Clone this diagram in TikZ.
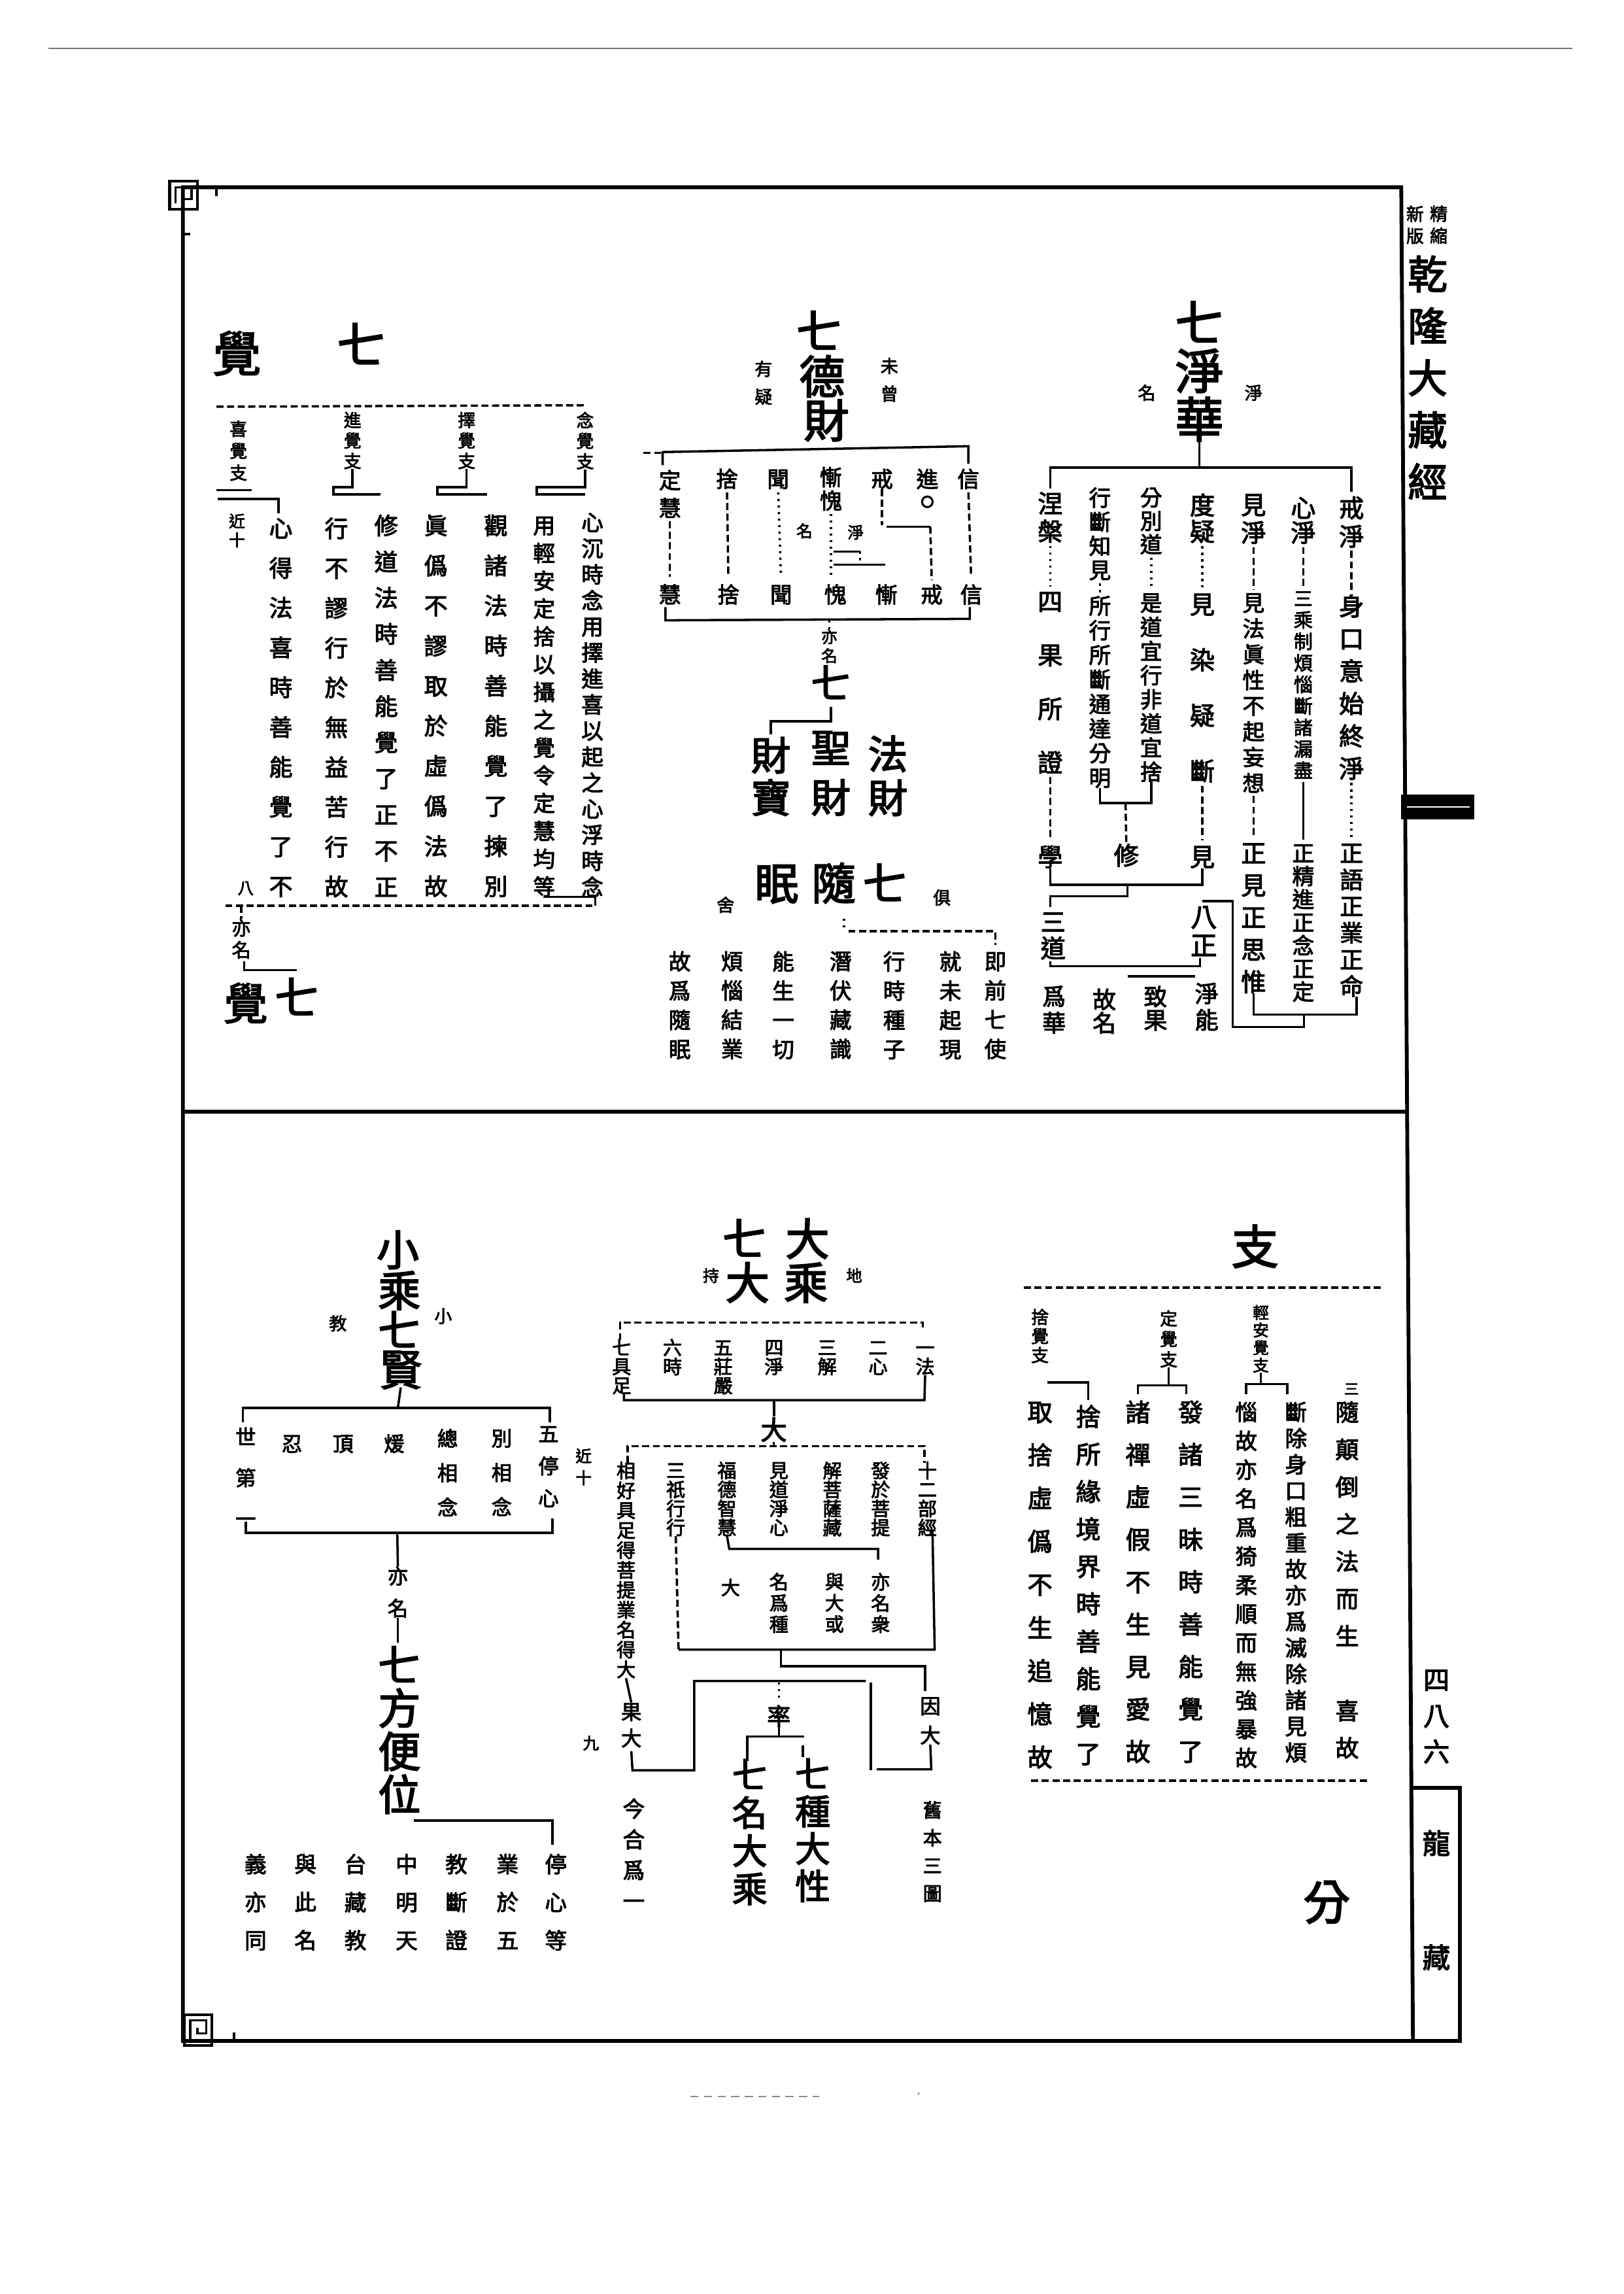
\documentclass[tikz,border=0pt]{standalone}
\usepackage{fontspec}
\setmainfont{Noto Sans CJK TC}[FakeBold=3]
\newlength\ux
\setlength\ux{0.53834pt}
\makeatletter
\def\vc@end{\vc@end}
\def\vc@loop#1{\ifx\vc@end#1\else\hbox to 0pt{\hss\vrule height .83em depth .07em width 0pt\relax#1\hss}\expandafter\vc@loop\fi}
% vertical column of characters: size, pitch, characters
\newcommand\vchars[3]{\vbox{\fontsize{#1\ux}{#2\ux}\selectfont\baselineskip=#2\ux\relax\lineskip=0pt\relax\lineskiplimit=-1000pt\relax\vc@loop#3\vc@end}}
\makeatother
% \vcolumn{name}{x}{y of first character centre}{size}{pitch}{characters}
\newcommand\vcolumn[6]{\node[vcol,yshift=#4*0.24225pt] (#1) at (#2,#3) {\vchars{#4}{#5}{#6}};}
% \onechar{name}{x}{y}{size}{character}
\newcommand\onechar[5]{\node[chr,font={\fontsize{#4\ux}{#4\ux}\selectfont}] (#1) at (#2,#3) {#5};}
\tikzset{
  vcol/.style={inner sep=0pt,outer sep=0pt,anchor=north},
  chr/.style={inner sep=0pt,outer sep=0pt,text height=0.83em,text depth=0.07em},
  ln/.style={line width=0.85pt},
  dl/.style={line width=0.85pt,dash pattern=on 2.6pt off 1.3pt},
  dt/.style={line width=0.85pt,dash pattern=on 0.8pt off 1.6pt},
  frm/.style={line width=1.4pt},
  gap/.style={shorten <=1.2pt,shorten >=1.2pt},
}
\begin{document}
\begin{tikzpicture}[x=0.53834pt,y=-0.53834pt]
\useasboundingbox (0,0) rectangle (1110,1568);
\fill[white] (0,0) rectangle (1110,1568);

% ---------- page frame ----------
\draw[line width=0.5pt,black!55] (33,33) -- (1075,33);
\draw[frm] (125,128) -- (958,128) -- (966,1395) -- (125,1395) -- cycle;
\draw[frm] (125,760) -- (961,760);
\draw[frm] (966,1222) -- (998,1222) -- (998,1395) -- (966,1395);
% corner frets
\draw[line width=1pt] (116,124) rectangle (135,143);
\draw[line width=0.8pt] (120,139) -- (120,128) -- (131,128) -- (131,136) -- (125,136) -- (125,132);
\draw[line width=0.8pt] (135,128) -- (148,128) -- (148,134);
\draw[line width=0.8pt] (125,143) -- (125,160) -- (130,160);
\draw[line width=1pt] (126,1377) rectangle (145,1398);
\draw[line width=0.8pt] (130,1394) -- (130,1381) -- (141,1381) -- (141,1390) -- (135,1390) -- (135,1386);
\draw[line width=0.8pt] (145,1395) -- (160,1395) -- (160,1389);

% ---------- margin ----------
\vcolumn{mA}{983.6}{146}{12}{15}{精縮}
\vcolumn{mB}{967.4}{146}{12}{15}{新版}
\vcolumn{mC}{976}{187}{27}{35.5}{乾隆大藏經}
\fill (958,543) rectangle (1008,560);
\draw[white,line width=0.6pt] (962,551.5) -- (1005,551.5);
\vcolumn{mD}{982}{1148}{18}{24.6}{四八六}
\onechar{mE}{982}{1260}{19}{龍}
\onechar{mF}{982}{1338}{19}{藏}

% ---------- seven pure flowers ----------
\onechar{aQi}{820}{226}{33}{七}
\onechar{aJing}{820}{259}{33}{淨}
\onechar{aHua}{820}{292}{33}{華}
\onechar{aMing}{784}{266}{12}{名}
\onechar{aJingS}{857}{266}{12}{淨}
\draw[ln] (aHua.south) -- (820,319.6);
\draw[ln] (718,334) -- (718,319.6) -- (924,319.6) -- (924,336);

\vcolumn{a1a}{924}{347}{17}{19.5}{戒淨}
\vcolumn{a1b}{924}{414}{17}{22.2}{身口意始終淨}
\vcolumn{a1c}{924}{583}{16}{18.2}{正語正業正命}
\draw[dl,gap] (a1a.south) -- (a1b.north);
\draw[dt,gap] (a1b.south) -- (a1c.north);

\vcolumn{a2a}{891}{347}{17}{17}{心淨}
\vcolumn{a2b}{891}{409}{13}{14.7}{三乘制煩惱斷諸漏盡}
\vcolumn{a2c}{891}{583}{15}{15.8}{正精進正念正定}
\draw[dl,gap] (a2a.south) -- (a2b.north);
\draw[ln,gap] (a2b.south) -- (a2c.north);

\vcolumn{a3a}{857}{345}{17}{19}{見淨}
\vcolumn{a3b}{857}{412}{15}{17.6}{見法眞性不起妄想}
\vcolumn{a3c}{857}{583}{17}{22}{正見正思惟}
\draw[dl,gap] (a3a.south) -- (a3b.north);
\draw[dl,gap] (a3b.south) -- (a3c.north);

\vcolumn{a4a}{822}{345}{17}{18}{度疑}
\vcolumn{a4b}{822}{413}{17}{38}{見染疑斷}
\onechar{a4c}{822}{585}{17}{見}
\draw[dt,gap] (a4a.south) -- (a4b.north);
\draw[dl,gap] (a4b.south) -- (a4c.north);

\vcolumn{a5a}{787}{340}{15}{16}{分別道}
\vcolumn{a5b}{787}{412}{15}{16.5}{是道宜行非道宜捨}
\draw[dt,gap] (a5a.south) -- (a5b.north);

\vcolumn{a6a}{752}{340}{15}{16.5}{行斷知見}
\vcolumn{a6b}{752}{414}{15}{16.8}{所行所斷通達分明}
\draw[dt,gap] (a6a.south) -- (a6b.north);

\vcolumn{a7a}{718}{344}{17}{19}{涅槃}
\vcolumn{a7b}{718}{411}{17}{36.7}{四果所證}
\onechar{a7c}{718}{585}{17}{學}
\draw[dt,gap] (a7a.south) -- (a7b.north);
\draw[dl,gap] (a7b.south) -- (a7c.north);

% cultivation bracket
\draw[ln] (a6b.south) -- (752,549) -- (787,549) -- (a5b.south);
\onechar{a5c}{770}{584}{17}{修}
\draw[dl] (769.5,549) -- (a5c.north);
% three paths
\draw[ln] (a7c.south) -- (718,604.7) -- (822,604.7) -- (a4c.south);
\draw[ln] (770.9,604.7) -- (770.9,612.5) -- (718,612.5) -- (718,620);
\vcolumn{a8}{720}{630}{17}{18}{三道}
\draw[ln] (718,657) -- (718,660.4) -- (820.4,660.4) -- (820.4,655);
\vcolumn{a9}{823}{626.5}{18}{19.5}{八正}
% eight right bracket
\draw[ln] (822,616) -- (842.7,616) -- (842.7,702) -- (891.5,702) -- (891.5,693.5);
\draw[ln] (a3c.south) -- (857,693.5) -- (927.4,693.5) -- (a1c.south -| 927.4,0);
\draw[ln] (770.9,667.4) -- (817.2,667.4);
\vcolumn{a10}{825}{679}{16}{18}{淨能}
\vcolumn{a11}{790}{681}{16}{16}{致果}
\vcolumn{a12}{755}{683}{16}{16}{故名}
\vcolumn{a13}{720.6}{681}{16}{18}{爲華}

% ---------- seven treasures ----------
\onechar{bQi}{560}{231}{31}{七}
\onechar{bDe}{562}{262}{31}{德}
\onechar{bCai}{565}{292}{31}{財}
\vcolumn{bYou}{522}{252}{12}{19}{有疑}
\vcolumn{bWei}{608}{250}{12}{19}{未曾}
\draw[dl] (440,309.5) -- (452,309.5);
\draw[ln] (453,318) -- (453,309) -- (662,305) -- (662,317);
\draw[ln] (455,415) -- (455,424) -- (663,423) -- (663,415);

\onechar{bT1}{662}{326}{15}{信}
\onechar{bT2}{634}{326}{15}{進}
\onechar{bT3}{603}{326}{15}{戒}
\vcolumn{bT4}{568}{326}{15}{16}{慚愧}
\onechar{bT5}{532}{326}{15}{聞}
\onechar{bT6}{497}{326}{15}{捨}
\vcolumn{bT7}{458}{328}{15}{19}{定慧}
\draw[line width=0.75pt] (634,343) circle (3.6);
\onechar{bM1}{550}{360}{11}{名}
\onechar{bM2}{585}{361}{11}{淨}

\onechar{bB1}{664}{405}{15}{信}
\onechar{bB2}{637}{405}{15}{戒}
\onechar{bB3}{606}{405}{15}{慚}
\onechar{bB4}{571}{405}{15}{愧}
\onechar{bB5}{534}{405}{15}{聞}
\onechar{bB6}{498}{405}{15}{捨}
\onechar{bB7}{458}{405}{15}{慧}

\draw[dl,gap] (bT1.south) -- (bB1.north);
\draw[dl,gap] (bT7.south) -- (bB7.north);
\draw[dl] (bT3.south) -- (603,359);
\draw[ln] (606,360) -- (636,360);
\draw[dl] (636,360) -- (bB2.north);
\draw[dt,gap] (bT4.south) -- (568,396);
\draw[ln] (570,377) -- (588,377);
\draw[ln] (570,386) -- (605,386);
\draw[dt] (588,377) -- (588,386);
\draw[dt,gap] (bT5.south) -- (bB5.north);
\draw[dl,gap] (bT6.south) -- (bB6.north);

\vcolumn{bYi}{567}{435}{11}{13}{亦名}
\draw[dt] (567,424) -- (bYi.north);
\onechar{bQi2}{568}{470}{27}{七}
\draw[ln] (568,483) -- (568,493) -- (527,493) -- (527,502);
\vcolumn{bX1}{527}{516}{27}{29}{財寶}
\vcolumn{bX2}{568}{511}{27}{34}{聖財}
\vcolumn{bX3}{607}{515}{27}{30}{法財}

\onechar{bR1}{531}{608}{30}{眠}
\onechar{bR2}{570}{608}{30}{隨}
\onechar{bR3}{605}{608}{30}{七}
\onechar{bS1}{496}{616}{12}{舍}
\onechar{bS2}{644}{611}{12}{俱}
\draw[dt] (577,628) -- (577,636.5);
\draw[dl] (580,636.5) -- (680.5,636.5) -- (680.5,646);
\vcolumn{bC1}{680.5}{657}{15}{20}{即前七使}
\vcolumn{bC2}{649.7}{657}{15}{20}{就未起現}
\vcolumn{bC3}{611.3}{657}{15}{20}{行時種子}
\vcolumn{bC4}{574.7}{657}{15}{20}{潛伏藏識}
\vcolumn{bC5}{535.5}{657}{15}{20}{能生一切}
\vcolumn{bC6}{500.5}{657}{15}{20}{煩惱結業}
\vcolumn{bC7}{464.7}{657}{15}{20}{故爲隨眠}

% ---------- seven awakening factors ----------
\onechar{cJue}{162}{247}{33}{覺}
\onechar{cQi}{247}{241}{33}{七}
\draw[dl] (148,278) -- (400,277);
\vcolumn{cH1}{400}{287}{12}{14}{念覺支}
\vcolumn{cH2}{319}{287}{12}{14}{擇覺支}
\vcolumn{cH3}{241}{287}{12}{14}{進覺支}
\vcolumn{cH4}{163}{293}{12}{15}{喜覺支}
\draw[ln] (cH1.south) -- (400,333) -- (367,333) -- (367,338) -- (400,338);
\draw[ln] (cH2.south) -- (319,333) -- (299,333) -- (299,338) -- (333,338);
\draw[ln] (cH3.south) -- (241,333) -- (228,333) -- (228,338) -- (260,338);
\draw[ln] (148,335) -- (172,335);
\draw[ln] (149,341) -- (190.5,341) -- (190.5,351);
\vcolumn{cJin}{162}{356}{11}{13}{近十}

\vcolumn{cT1}{405}{357}{15}{17.8}{心沉時念用擇進喜以起之心浮時念}
\vcolumn{cT2}{372}{359}{15}{19}{用輕安定捨以攝之覺令定慧均等}
\vcolumn{cT3}{339}{359}{16}{27.4}{觀諸法時善能覺了揀別}
\vcolumn{cT4}{298}{359}{16}{27.4}{眞僞不謬取於虛僞法故}
\vcolumn{cT5}{264}{359}{16}{24.7}{修道法時善能覺了正不正}
\vcolumn{cT6}{230}{361}{16}{27.2}{行不謬行於無益苦行故}
\vcolumn{cT7}{192}{361}{16}{27.2}{心得法喜時善能覺了不}

\draw[ln] (cT2.south) -- (372,613) -- (407,613) -- (407,619);
\draw[dl] (154,619) -- (407,619);
\onechar{cBa}{168}{604}{11}{八}
\vcolumn{cYi}{165}{634}{13}{15}{亦名}
\draw[dl] (165,619) -- (cYi.north);
\draw[ln] (167,657) -- (167,663) -- (203,663);
\onechar{cJue2}{168}{690}{30}{覺}
\onechar{cQi2}{203}{686}{30}{七}

% ---------- awakening factors, continued ----------
\onechar{dZhi}{858}{857}{32}{支}
\draw[dl] (700,880) -- (945,880);
\vcolumn{dH1}{862}{897}{11}{12}{輕安覺支}
\vcolumn{dH2}{799}{901}{12}{14}{定覺支}
\vcolumn{dH3}{711}{900}{12}{13}{捨覺支}
\draw[ln] (dH1.south) -- (862,946);
\draw[ln] (852,953) -- (852,946) -- (880,946) -- (880,953);
\draw[ln] (dH2.south) -- (799,947);
\draw[ln] (778,953) -- (778,947) -- (811,947) -- (811,953);
\draw[ln] (716,945) -- (744,945) -- (744,957);
\onechar{dMark}{924}{946}{10}{三}

\vcolumn{dT1}{921}{965}{16}{25.5}{隨顛倒之法而生　喜故}
\vcolumn{dT2}{886}{965}{15}{17.9}{斷除身口粗重故亦爲滅除諸見煩}
\vcolumn{dT3}{852}{965}{15}{19.7}{惱故亦名爲猗柔順而無強暴故}
\vcolumn{dT4}{814}{965}{17}{29}{發諸三昧時善能覺了}
\vcolumn{dT5}{778}{965}{17}{29}{諸禪虛假不生見愛故}
\vcolumn{dT6}{744}{968}{17}{25.6}{捨所緣境界時善能覺了}
\vcolumn{dT7}{711}{965}{17}{29.5}{取捨虛僞不生追憶故}
\draw[dl] (705,1217) -- (935,1217);
\onechar{dFen}{907}{1305}{32}{分}

% ---------- seven greatnesses ----------
\onechar{eQi}{509}{851}{30}{七}
\onechar{eDa1}{552}{851}{30}{大}
\onechar{eDa2}{511}{881}{30}{大}
\onechar{eSheng}{551}{881}{30}{乘}
\onechar{eChi}{486}{869}{11}{持}
\onechar{eDi}{584}{869}{11}{地}
\draw[dl] (424,916) -- (424,904) -- (631,904) -- (631,909);
\vcolumn{eI1}{632.5}{921}{13}{13}{一法}
\vcolumn{eI2}{600.3}{921}{13}{13}{二心}
\vcolumn{eI3}{565.5}{921}{13}{13}{三解}
\vcolumn{eI4}{529.2}{921}{13}{13}{四淨}
\vcolumn{eI5}{494.4}{921}{13}{13}{五莊嚴}
\vcolumn{eI6}{459.7}{921}{13}{13}{六時}
\vcolumn{eI7}{425}{921}{13}{13}{七具足}
\draw[ln] (eI1.south) -- (632,957) -- (426.6,957) -- (426.6,953);
\draw[ln] (529.2,957) -- (529.2,968);
\onechar{eDa3}{529}{977}{18}{大}
\draw[ln] (eDa3.south) -- (529,988.4);
\draw[dl] (429,1000) -- (429,988.4) -- (632,988.4) -- (632,1000);
\vcolumn{eC1}{634}{1005}{13}{13}{十二部經}
\vcolumn{eC2}{602}{1005}{13}{13}{發於菩提}
\vcolumn{eC3}{569}{1005}{13}{13}{解菩薩藏}
\vcolumn{eC4}{532.5}{1005}{13}{13}{見道淨心}
\vcolumn{eC5}{497}{1005}{13}{13}{福德智慧}
\vcolumn{eC6}{462}{1005}{13}{13}{三祇行行}
\vcolumn{eC7}{428}{1005}{13}{13.6}{相好具足得菩提業名得大}
\draw[dl] (eC6.south) -- (463.9,1127.5);
\draw[ln] (463.9,1127.5) -- (639,1127.5) -- (637.5,1046);
\draw[ln] (eC5.south) -- (498.6,1058.7) -- (600.3,1058.7) -- (600.3,1066);
\onechar{eN0}{499.4}{1083}{13}{大}
\vcolumn{eN1}{532.5}{1081}{13}{14.5}{名爲種}
\vcolumn{eN2}{570.5}{1081}{13}{14.5}{與大或}
\vcolumn{eN3}{602}{1081}{13}{14.5}{亦名衆}
\draw[ln] (534,1128) -- (534,1139) -- (632.5,1139) -- (632.5,1156);
\vcolumn{eYin}{636}{1166}{14}{20}{因大}
\draw[ln] (eYin.south) -- (636.7,1209.3) -- (599.5,1209.3);
\draw[ln] (595.3,1210) -- (595.3,1150);
\draw[ln] (592,1149) -- (474.6,1149) -- (474.6,1210) -- (432.4,1210) -- (431.6,1197);
\vcolumn{eGuo}{431.6}{1170}{14}{18}{果大}
\draw[ln] (eC7.south) -- (eGuo.north);
\draw[dt] (532.5,1150) -- (532.5,1161);
\onechar{eHe}{532.5}{1172}{16}{率}
\draw[ln] (eHe.south) -- (532.5,1187);
\draw[ln] (511,1203.5) -- (511,1187) -- (549.8,1187);
\draw[ln] (549,1193) -- (549,1201);
\vcolumn{eQz}{555.6}{1212.5}{24}{25.5}{七種大性}
\vcolumn{eQm}{512.6}{1213}{24}{26}{七名大乘}
\vcolumn{eJin}{433.3}{1236}{15}{21}{今合爲一}
\vcolumn{eJiu}{637.5}{1237}{13}{19}{舊本三圖}

% ---------- seven worthies ----------
\onechar{fX}{272}{858}{29}{小}
\onechar{fS}{273}{886}{29}{乘}
\onechar{fQ}{273}{913}{29}{七}
\onechar{fXian}{274}{940}{29}{賢}
\onechar{fJiao}{231}{902}{12}{教}
\onechar{fXs}{303}{897}{12}{小}
\draw[ln] (fXian.south) -- (272,962.4);
\draw[ln] (166,972) -- (166,962.4) -- (376,962.4) -- (376,972);
\vcolumn{fI1}{375}{980}{14}{22}{五停心}
\vcolumn{fI2}{343}{983}{14}{23.5}{別相念}
\vcolumn{fI3}{306}{983}{14}{23.5}{總相念}
\onechar{fI4}{269.5}{985}{14}{煖}
\onechar{fI5}{234.6}{985}{14}{頂}
\onechar{fI6}{199.6}{985}{14}{忍}
\vcolumn{fI7}{168}{982}{14}{28}{世第一}
\vcolumn{fJin}{399}{995}{11}{15}{近十}
\draw[ln] (168,1040) -- (168,1047.6) -- (377.7,1047.6) -- (377.7,1038);
\vcolumn{fYi}{272}{1077}{14}{22}{亦名}
\draw[ln] (271.6,1047.6) -- (fYi.north);
\draw[ln] (fYi.south) -- (272,1123);
\vcolumn{fQf}{273}{1138}{29}{29.5}{七方便位}
\draw[ln] (282.8,1244.3) -- (377.7,1244.3) -- (377.7,1261);
\onechar{fJiu}{404}{1188.6}{11}{九}
\vcolumn{fB1}{380}{1274}{15}{26}{停心等}
\vcolumn{fB2}{347}{1274}{15}{26}{業於五}
\vcolumn{fB3}{312}{1274}{15}{26}{教斷證}
\vcolumn{fB4}{278}{1274}{15}{26}{中明天}
\vcolumn{fB5}{243}{1274}{15}{26}{台藏教}
\vcolumn{fB6}{208.8}{1274}{15}{26}{與此名}
\vcolumn{fB7}{174.7}{1274}{15}{26}{義亦同}

% scan marks below the frame
\draw[black!45,line width=0.5pt,dash pattern=on 3pt off 2pt] (472,1433) -- (560,1433);
\fill[black!45] (628,1431) circle (0.8);
\end{tikzpicture}
\end{document}
